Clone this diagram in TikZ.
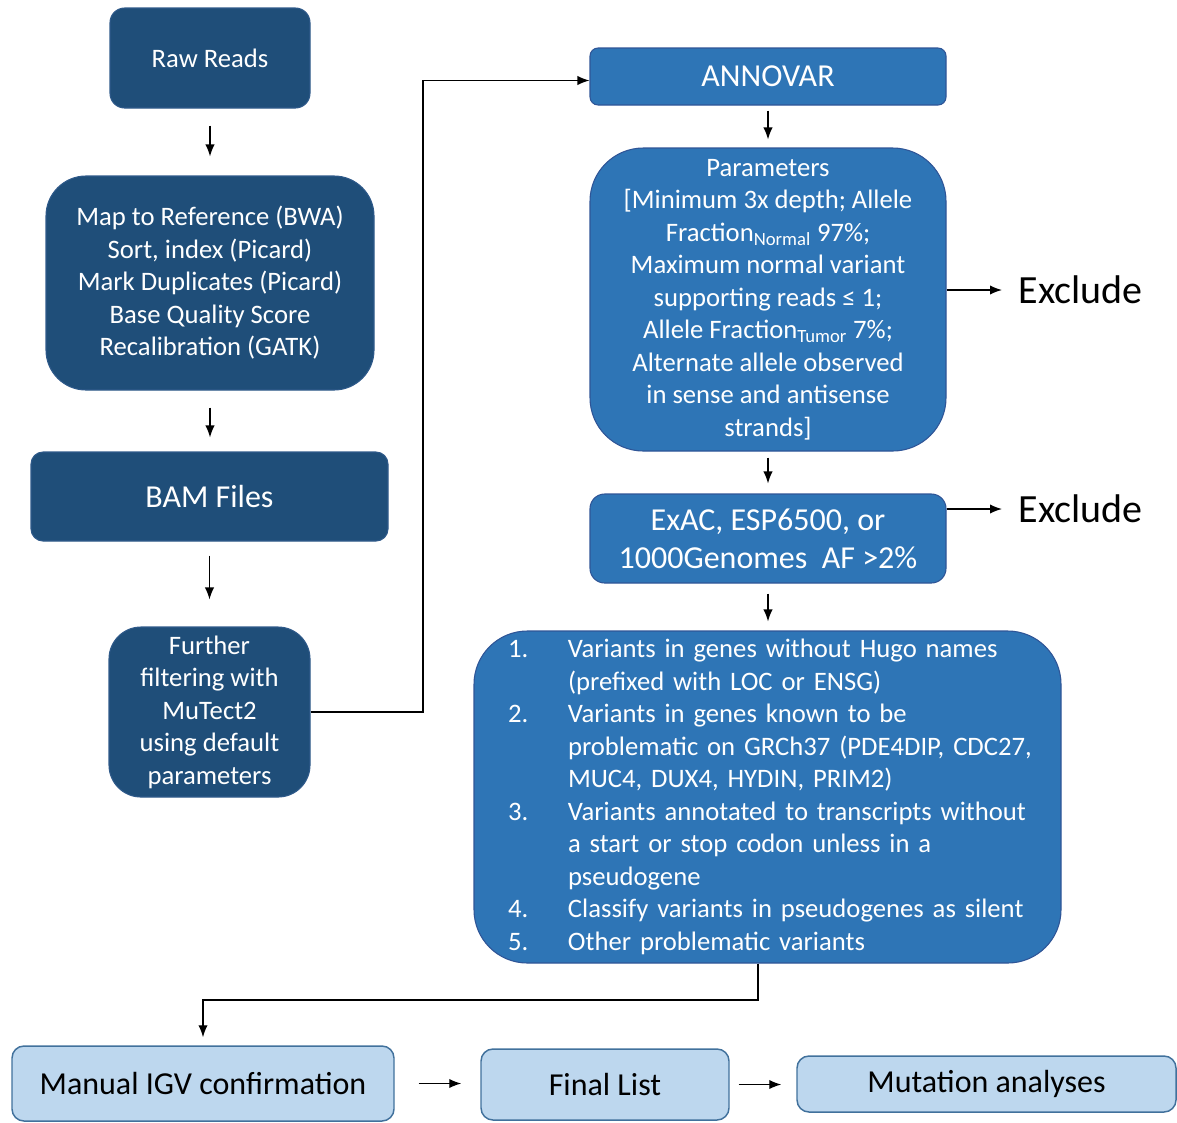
\documentclass[tikz,border=0pt]{standalone}
\usepackage{fontspec}
\setmainfont{Carlito}
\usetikzlibrary{arrows.meta}
\definecolor{darkfill}{HTML}{1F4E79}
\definecolor{darkline}{HTML}{2F5A8A}
\definecolor{midfill}{HTML}{2E75B6}
\definecolor{midline}{HTML}{2F5597}
\definecolor{lightfill}{HTML}{BDD7EE}
\definecolor{lightline}{HTML}{41719C}
\newcommand{\numline}[1]{\makebox[45pt][l]{#1}}

\begin{document}
\begin{tikzpicture}[x=0.75pt,y=-0.75pt,
	darkblock/.style={shape=rectangle,draw=darkline,fill=darkfill,line width=0.8pt,text=white,
		align=center,inner sep=0pt,font=\fontsize{20}{24.4}\selectfont},
	midblock/.style={shape=rectangle,draw=midline,fill=midfill,line width=0.8pt,text=white,
		align=center,inner sep=0pt,font=\fontsize{20}{24.4}\selectfont},
	lightblock/.style={shape=rectangle,rounded corners=9pt,draw=lightline,fill=lightfill,line width=1.1pt,
		text=black,inner sep=0pt,font=\fontsize{24}{28.5}\selectfont},
	big/.style={font=\fontsize{24}{28.5}\selectfont},
	>={Latex[length=9pt,width=7pt]},line width=1pt]
	\useasboundingbox (0,0) rectangle (1177,1122);

	% left column
	\node[darkblock,rounded corners=11pt,minimum width=150pt,minimum height=75pt] (raw) at (210,58) {Raw Reads};
	\node[darkblock,rounded corners=30pt,minimum width=246pt,minimum height=160.5pt] (map) at (210,283)
		{Map to Reference (BWA)\\Sort, index (Picard)\\Mark Duplicates (Picard)\\Base Quality Score\\Recalibration (GATK)};
	\node[darkblock,big,rounded corners=9pt,minimum width=267.75pt,minimum height=66.75pt] (bam) at (209.5,496.5) {BAM Files};
	\node[darkblock,rounded corners=24pt,minimum width=150.75pt,minimum height=127.5pt] (filter) at (209.5,712)
		{Further\\filtering with\\MuTect2\\using default\\parameters};
	\draw [->,shorten <=12.75pt,shorten >=14.25pt] (raw.south) -- (raw.south |- map.north);
	\draw [->,shorten <=12.75pt,shorten >=10.5pt] (map.south) -- (map.south |- bam.north);
	\draw [->,shorten <=10.5pt,shorten >=20.25pt] (bam.south) -- (bam.south |- filter.north);

	% right column
	\node[midblock,big,rounded corners=6pt,minimum width=267pt,minimum height=42.75pt] (annovar) at (768,76.5) {ANNOVAR};
	\node[midblock,rounded corners=40pt,minimum width=267pt,minimum height=227.25pt] (param) at (768,299.5)
		{Parameters\\{[}Minimum 3x depth; Allele\\Fraction\textsubscript{Normal} 97\%;\\Maximum normal variant\\supporting reads ≤ 1;\\
		Allele Fraction\textsubscript{Tumor} 7\%;\\Alternate allele observed\\in sense and antisense\\strands{]}};
	\node[midblock,big,rounded corners=11pt,minimum width=267pt,minimum height=66.75pt] (exac) at (768,538.5)
		{ExAC, ESP6500, or\\1000Genomes\ \ AF >2\%};
	\node[midblock,rounded corners=40pt,align=left,text width=389.25pt,inner xsep=25.5pt,minimum height=249pt] (list) at (767.5,797)
		{\numline{1.}Variants in genes without Hugo names\\
		\hspace*{45pt}(prefixed with LOC or ENSG)\\
		\numline{2.}Variants in genes known to be\\
		\hspace*{45pt}\makebox[0pt][l]{problematic on GRCh37 (PDE4DIP, CDC27,}\\
		\hspace*{45pt}MUC4, DUX4, HYDIN, PRIM2)\\
		\numline{3.}Variants annotated to transcripts without\\
		\hspace*{45pt}a start or stop codon unless in a\\
		\hspace*{45pt}pseudogene\\
		\numline{4.}Classify variants in pseudogenes as silent\\
		\numline{5.}Other problematic variants};
	\draw [->,shorten <=3.75pt,shorten >=6pt] (annovar.south) -- (param.north);
	\draw [->,shorten <=4.5pt,shorten >=7.5pt] (param.south) -- (exac.north);
	\draw [->,shorten <=7.5pt,shorten >=6.75pt] (exac.south) -- (exac.south |- list.north);

	\node[anchor=west,inner sep=0pt,font=\fontsize{30}{36}\selectfont] (excl1) at (1018,290) {Exclude};
	\node[anchor=west,inner sep=0pt,font=\fontsize{30}{36}\selectfont] (excl2) at (1018,509) {Exclude};
	\draw [->,shorten >=12pt] (param.east |- excl1.west) -- (excl1.west);
	\draw [->,shorten >=12pt] (exac.east |- excl2.west) -- (excl2.west);

	\coordinate (elbow) at (423,400);
	\draw [->] (filter.east) -- (filter.east -| elbow) |- ([yshift=-3pt]annovar.west);

	% bottom row
	\node[lightblock,minimum width=286.5pt,minimum height=56.25pt] (igv) at (203,1083.5) {Manual IGV confirmation};
	\node[lightblock,minimum width=186pt,minimum height=53.25pt] (final) at (605,1084.5) {Final List};
	\node[lightblock,minimum width=284.25pt,minimum height=42pt] (mut) at (986.5,1084) {Mutation analyses};
	\coordinate (turn) at (758,1000);
	\draw [->,shorten >=6pt] (list.south -| turn) -- (turn) -| (igv.north);
	\draw [->,shorten <=18pt,shorten >=14.25pt] (igv.east) -- (final.west |- igv.east);
	\draw [->,shorten <=6.75pt,shorten >=11.25pt] (final.east) -- (mut.west |- final.east);
\end{tikzpicture}
\end{document}
